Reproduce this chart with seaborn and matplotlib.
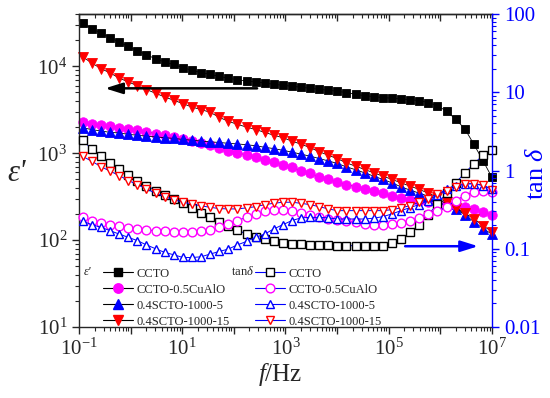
import numpy as np
import matplotlib
matplotlib.use('Agg')
import matplotlib.pyplot as plt
import seaborn as sns
from matplotlib.lines import Line2D
from matplotlib import ticker

# ---------------- data ----------------
freq = [0.119, 0.178, 0.267, 0.401, 0.601, 0.902, 1.35, 2.03, 3.05, 4.57,
        6.85, 10.3, 15.4, 23.1, 34.7, 52.1, 78.1, 117, 176, 264,
        395, 593, 889, 1330, 2000, 3000, 4500, 6760, 10100, 15200,
        22800, 34200, 51300, 77000, 116000, 173000, 260000, 390000, 585000, 877000,
        1320000, 1970000, 2960000, 4450000, 6670000, 10000000]

eps_ccto = [31500, 27100, 24100, 21400, 18900, 17000, 15000, 13600, 12200, 11200,
            10500, 9670, 8990, 8470, 8090, 7670, 7280, 7030, 6770, 6600,
            6430, 6210, 6050, 5890, 5740, 5590, 5440, 5300, 5160, 4990,
            4770, 4600, 4490, 4370, 4290, 4210, 4140, 4030, 3830, 3500,
            3060, 2460, 1920, 1270, 824, 526]

eps_cual = [2260, 2150, 2100, 2040, 1970, 1900, 1840, 1760, 1680, 1610,
            1540, 1460, 1380, 1310, 1240, 1140, 1070, 1010, 955, 893,
            841, 789, 734, 685, 626, 585, 535, 499, 464, 435,
            412, 386, 366, 344, 320, 304, 292, 283, 277, 270,
            259, 249, 239, 227, 210, 194]

eps_s5 = [1960, 1870, 1800, 1740, 1710, 1650, 1610, 1570, 1540, 1510,
          1480, 1440, 1410, 1380, 1350, 1330, 1300, 1280, 1250, 1220,
          1170, 1130, 1080, 1030, 975, 924, 869, 815, 762, 696,
          646, 594, 545, 499, 456, 410, 376, 347, 320, 296,
          263, 231, 197, 163, 136, 117]

eps_s15 = [12800, 10900, 9410, 8380, 7340, 6600, 6000, 5400, 4900, 4440,
           4070, 3720, 3400, 3180, 2960, 2590, 2330, 2150, 2000, 1870,
           1740, 1610, 1510, 1380, 1270, 1160, 1040, 948, 865, 774,
           709, 650, 594, 545, 499, 456, 418, 383, 347, 312,
           273, 236, 204, 177, 147, 125]

tan_ccto = [2.43, 1.86, 1.51, 1.24, 1.05, 0.88, 0.745, 0.643, 0.555, 0.492,
            0.434, 0.389, 0.336, 0.284, 0.252, 0.217, 0.197, 0.174, 0.154, 0.140,
            0.132, 0.125, 0.119, 0.116, 0.114, 0.113, 0.112, 0.111, 0.110, 0.110,
            0.109, 0.109, 0.109, 0.110, 0.117, 0.133, 0.162, 0.203, 0.273, 0.374,
            0.512, 0.695, 0.923, 1.22, 1.56, 1.84]

tan_cual = [0.252, 0.224, 0.211, 0.201, 0.193, 0.186, 0.179, 0.174, 0.170, 0.167,
            0.164, 0.162, 0.162, 0.167, 0.174, 0.187, 0.207, 0.229, 0.252, 0.279,
            0.301, 0.313, 0.311, 0.303, 0.290, 0.273, 0.257, 0.243, 0.232, 0.225,
            0.217, 0.207, 0.203, 0.203, 0.205, 0.215, 0.229, 0.250, 0.281, 0.307,
            0.345, 0.412, 0.478, 0.538, 0.555, 0.538]

tan_s5 = [0.224, 0.203, 0.188, 0.170, 0.154, 0.140, 0.127, 0.112, 0.100, 0.0897,
          0.0838, 0.0773, 0.0773, 0.0789, 0.0855, 0.0923, 0.099, 0.112, 0.124, 0.140,
          0.154, 0.179, 0.203, 0.229, 0.248, 0.252, 0.252, 0.248, 0.240, 0.240,
          0.240, 0.240, 0.246, 0.257, 0.279, 0.307, 0.336, 0.367, 0.412, 0.492,
          0.582, 0.643, 0.681, 0.676, 0.643, 0.582]

tan_s15 = [1.51, 1.31, 1.12, 0.98, 0.863, 0.745, 0.662, 0.582, 0.512, 0.465,
           0.425, 0.393, 0.374, 0.353, 0.339, 0.326, 0.323, 0.323, 0.333, 0.345,
           0.366, 0.381, 0.393, 0.393, 0.381, 0.366, 0.345, 0.323, 0.307, 0.307,
           0.307, 0.307, 0.307, 0.307, 0.316, 0.333, 0.356, 0.393, 0.434, 0.500,
           0.555, 0.624, 0.667, 0.681, 0.651, 0.571]

labels = ["CCTO", "CCTO-0.5CuAlO", "0.4SCTO-1000-5", "0.4SCTO-1000-15"]
colors = ["#000000", "#FF00FF", "#0000FF", "#FF0000"]
markers = ["s", "o", "^", "v"]
msizes = [5.8, 6.8, 6.8, 6.8]

# ---------------- style ----------------
sns.set_style('ticks')
plt.rcParams['font.family'] = ['Liberation Serif', 'DejaVu Serif']
plt.rcParams['mathtext.fontset'] = 'custom'
plt.rcParams['mathtext.rm'] = 'Liberation Serif'
plt.rcParams['mathtext.it'] = 'Liberation Serif:italic'
plt.rcParams['mathtext.bf'] = 'Liberation Serif:bold'
plt.rcParams['axes.linewidth'] = 1.0

fig = plt.figure(figsize=(5.5, 3.98), dpi=100)
ax = fig.add_axes([0.1436, 0.1784, 0.7509, 0.7864])
ax2 = ax.twinx()
ax.set_xscale('log')
ax.set_yscale('log')
ax2.set_yscale('log')

eps_series = [eps_ccto, eps_cual, eps_s5, eps_s15]
tan_series = [tan_ccto, tan_cual, tan_s5, tan_s15]

for vals, c, m, ms in zip(eps_series, colors, markers, msizes):
    sns.lineplot(x=freq, y=vals, ax=ax, color='k', linewidth=0.6,
                 marker=m, markersize=ms, markerfacecolor=c,
                 markeredgecolor=c, markeredgewidth=0.6,
                 estimator=None, sort=False, clip_on=False)

for vals, c, m, ms in zip(tan_series, colors, markers, msizes):
    sns.lineplot(x=freq, y=vals, ax=ax2, color='#0000FF', linewidth=0.7,
                 marker=m, markersize=ms - 0.5, markerfacecolor='white',
                 markeredgecolor=c, markeredgewidth=1.0,
                 estimator=None, sort=False, clip_on=False)

ax.set_xlim(0.1, 1e7)
ax.set_ylim(10, 4e4)
ax2.set_ylim(0.01, 100)

# x ticks: major each decade, labels every second decade
ax.xaxis.set_major_locator(ticker.FixedLocator([10.0 ** e for e in range(-1, 8)]))
ax.xaxis.set_minor_locator(ticker.LogLocator(base=10, subs=np.arange(2, 10), numticks=100))

def xfmt(v, pos):
    e = int(round(np.log10(v)))
    return r'$\mathdefault{10^{%d}}$' % e if e % 2 != 0 else ''

ax.xaxis.set_major_formatter(ticker.FuncFormatter(xfmt))
ax.xaxis.set_minor_formatter(ticker.NullFormatter())

ax.yaxis.set_major_locator(ticker.FixedLocator([10, 100, 1000, 10000]))
ax.yaxis.set_minor_locator(ticker.LogLocator(base=10, subs=np.arange(2, 10), numticks=100))
ax.yaxis.set_minor_formatter(ticker.NullFormatter())

ax2.yaxis.set_major_locator(ticker.FixedLocator([0.01, 0.1, 1, 10, 100]))
ax2.yaxis.set_minor_locator(ticker.LogLocator(base=10, subs=np.arange(2, 10), numticks=100))
ax2.yaxis.set_major_formatter(ticker.FuncFormatter(lambda v, p: ('%g' % v)))
ax2.yaxis.set_minor_formatter(ticker.NullFormatter())

ax.tick_params(axis='both', which='major', direction='out', length=5, width=1.0,
               labelsize=15, top=False, right=False)
ax.tick_params(axis='both', which='minor', direction='out', length=3, width=0.8,
               top=False, right=False)
ax.spines['right'].set_visible(False)

# top ticks pointing inward
sec = ax.secondary_xaxis('top')
sec.xaxis.set_major_locator(ticker.FixedLocator([10.0 ** e for e in range(-1, 8)]))
sec.xaxis.set_minor_locator(ticker.LogLocator(base=10, subs=np.arange(2, 10), numticks=100))
sec.xaxis.set_major_formatter(ticker.NullFormatter())
sec.xaxis.set_minor_formatter(ticker.NullFormatter())
sec.tick_params(which='major', direction='in', length=5, width=1.0)
sec.tick_params(which='minor', direction='in', length=3, width=0.8)

for s in ['left', 'top', 'bottom']:
    ax2.spines[s].set_visible(False)
ax2.spines['right'].set_color('#0000FF')
ax2.spines['right'].set_linewidth(1.0)
ax2.tick_params(axis='y', which='major', direction='out', length=5, width=1.0,
                colors='#0000FF', labelsize=15)
ax2.tick_params(axis='y', which='minor', direction='out', length=3, width=0.8,
                colors='#0000FF')

# axis titles
ax.text(-0.15, 0.49, "ε'", transform=ax.transAxes, ha='center', va='center',
        fontsize=22, style='italic')
ax.text(1.11, 0.49, r'tan $\delta$', transform=ax.transAxes, rotation=90,
        ha='center', va='center', fontsize=19, color='#0000FF')
ax.text(0.487, -0.153, r'$f$/Hz', transform=ax.transAxes, ha='center',
        va='center', fontsize=18)

# arrows
ax.annotate('', xy=(0.32, 5580), xytext=(282, 5580),
            arrowprops=dict(arrowstyle='-|>,head_length=0.7,head_width=0.22',
                            color='k', lw=1.8, mutation_scale=15,
                            shrinkA=0, shrinkB=0))
ax2.annotate('', xy=(5.4e6, 0.1077), xytext=(2.08e5, 0.1077),
             arrowprops=dict(arrowstyle='-|>,head_length=0.7,head_width=0.22',
                             color='#0000FF', lw=1.8, mutation_scale=15,
                             shrinkA=0, shrinkB=0))

# legends
h1 = [Line2D([], [], color='k', lw=0.8, marker=m, ms=ms, mfc=c, mec=c)
      for c, m, ms in zip(colors, markers, msizes)]
h2 = [Line2D([], [], color='#0000FF', lw=0.8, marker=m, ms=ms - 0.5, mfc='white',
             mec=c, mew=1.0) for c, m, ms in zip(colors, markers, msizes)]
leg_kw = dict(loc='upper left', frameon=False, fontsize=9, handlelength=2.4,
              handletextpad=0.3, labelspacing=0.32, borderpad=0, borderaxespad=0)
leg1 = ax2.legend(h1, labels, bbox_to_anchor=(0.058, 0.19), **leg_kw)
ax2.add_artist(leg1)
leg2 = ax2.legend(h2, labels, bbox_to_anchor=(0.426, 0.19), **leg_kw)
ax.text(0.012, 0.177, "ε'", transform=ax.transAxes, ha='left', va='center',
        fontsize=9, style='italic')
ax.text(0.424, 0.177, r'tan$\delta$', transform=ax.transAxes, ha='right',
        va='center', fontsize=9)

fig.savefig('out.png', dpi=100)
